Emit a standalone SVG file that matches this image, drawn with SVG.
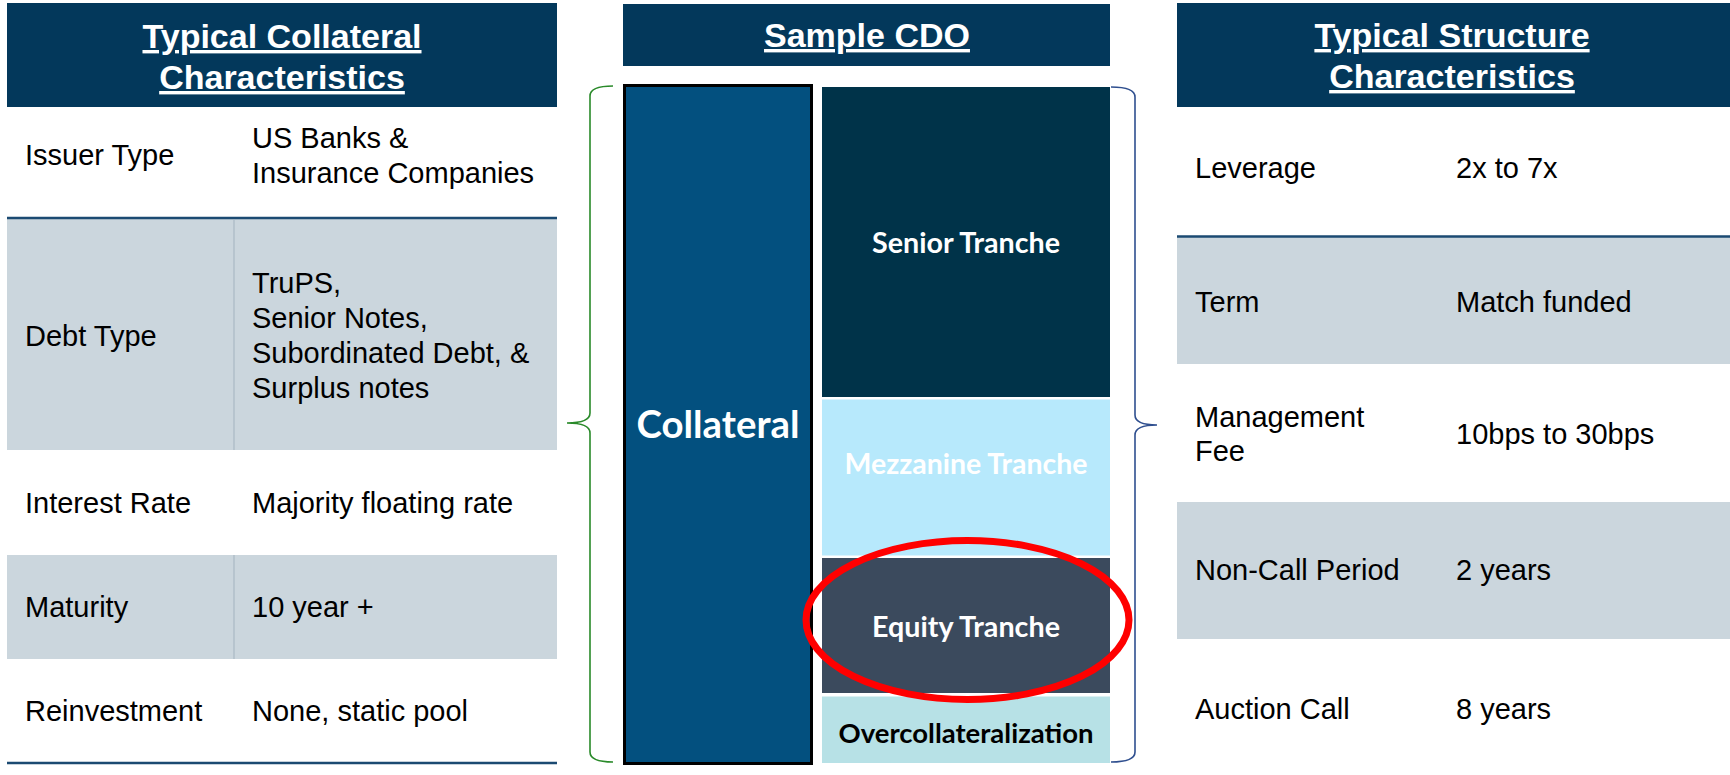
<svg xmlns="http://www.w3.org/2000/svg" width="1730" height="775" viewBox="0 0 1730 775">
<style>
.hdr{fill:#03385B}
.ht{font-family:"Liberation Sans",Arial,sans-serif;font-weight:bold;font-size:34px;fill:#fff;text-anchor:middle;text-decoration:underline}
.b{font-family:"Liberation Sans",Arial,sans-serif;font-size:29px;fill:#000}
.gray{fill:#CBD6DD}
.sep{stroke:#1B4A72;stroke-width:2.5}
.div{stroke:#A3B3BF;stroke-width:1}
.tr{font-family:Lato,"Open Sans",sans-serif;font-weight:bold;text-anchor:middle}
.brace{fill:none;stroke-width:1.6}
</style>
<rect width="1730" height="775" fill="#fff"/>

<g id="left-table">
  <rect class="hdr" x="7" y="3" width="550" height="104"/>
  <text class="ht" x="282" y="48">Typical Collateral</text>
  <text class="ht" x="282" y="89">Characteristics</text>
  <rect class="gray" x="7" y="219" width="550" height="231"/>
  <rect class="gray" x="7" y="555" width="550" height="104"/>
  <line class="div" x1="234" y1="220" x2="234" y2="450"/>
  <line class="div" x1="234" y1="555" x2="234" y2="659"/>
  <line class="sep" x1="7" y1="218" x2="557" y2="218"/>
  <line class="sep" x1="7" y1="763" x2="557" y2="763"/>
  <g id="row-issuer">
    <text class="b" x="25" y="165">Issuer Type</text>
    <text class="b" x="252" y="148">US Banks &amp;</text>
    <text class="b" x="252" y="183">Insurance Companies</text>
  </g>
  <g id="row-debt">
    <text class="b" x="25" y="346">Debt Type</text>
    <text class="b" x="252" y="293">TruPS,</text>
    <text class="b" x="252" y="328">Senior Notes,</text>
    <text class="b" x="252" y="363">Subordinated Debt, &amp;</text>
    <text class="b" x="252" y="398">Surplus notes</text>
  </g>
  <g id="row-interest">
    <text class="b" x="25" y="513">Interest Rate</text>
    <text class="b" x="252" y="513">Majority floating rate</text>
  </g>
  <g id="row-maturity">
    <text class="b" x="25" y="617">Maturity</text>
    <text class="b" x="252" y="617">10 year +</text>
  </g>
  <g id="row-reinvest">
    <text class="b" x="25" y="721">Reinvestment</text>
    <text class="b" x="252" y="721">None, static pool</text>
  </g>
</g>

<g id="sample-cdo-header">
  <rect class="hdr" x="623" y="4" width="487" height="62"/>
  <text class="ht" x="867" y="47">Sample CDO</text>
</g>

<g id="collateral">
  <rect x="624.5" y="85.5" width="187" height="678" fill="#03507F" stroke="#000" stroke-width="3"/>
  <text class="tr" x="718" y="438" font-size="38" fill="#fff" textLength="163" lengthAdjust="spacingAndGlyphs">Collateral</text>
</g>

<g id="senior-tranche">
  <rect x="822" y="87" width="288" height="310" fill="#003349"/>
  <text class="tr" x="966" y="253" font-size="28" fill="#fff" textLength="188" lengthAdjust="spacingAndGlyphs">Senior Tranche</text>
</g>
<g id="mezzanine-tranche">
  <rect x="822" y="399.5" width="288" height="156" fill="#B7E9FC"/>
  <text class="tr" x="966" y="474" font-size="28" fill="#fff" textLength="243" lengthAdjust="spacingAndGlyphs">Mezzanine Tranche</text>
</g>
<g id="equity-tranche">
  <rect x="822" y="558" width="288" height="135" fill="#3B4A5D"/>
  <text class="tr" x="966" y="637" font-size="28" fill="#fff" textLength="188" lengthAdjust="spacingAndGlyphs">Equity Tranche</text>
</g>
<g id="overcollateralization">
  <rect x="822" y="696.5" width="288" height="66.5" fill="#B7E1E6"/>
  <text class="tr" x="966" y="743" font-size="27" fill="#000" textLength="255" lengthAdjust="spacingAndGlyphs">Overcollateralization</text>
</g>

<g id="connectors">
  <path class="brace" stroke="#2A8A2A" d="M613,86 Q590,86 590,96 L590,413 Q590,423 567,423 Q590,423 590,433 L590,752 Q590,762 613,762"/>
  <path class="brace" stroke="#2F4F8F" d="M1111,87 Q1135,87 1135,97 L1135,415 Q1135,425 1157,425 Q1135,425 1135,435 L1135,752 Q1135,762 1111,762"/>
</g>

<g id="highlight">
  <ellipse cx="967.5" cy="620" rx="161.5" ry="79.5" fill="none" stroke="#FF0000" stroke-width="7"/>
</g>

<g id="right-table">
  <rect class="hdr" x="1177" y="3" width="553" height="104"/>
  <text class="ht" x="1452" y="47">Typical Structure</text>
  <text class="ht" x="1452" y="88">Characteristics</text>
  <rect class="gray" x="1177" y="237" width="553" height="127"/>
  <rect class="gray" x="1177" y="502" width="553" height="137"/>
  <line class="sep" x1="1177" y1="236.5" x2="1730" y2="236.5"/>
  <g id="row-leverage">
    <text class="b" x="1195" y="178">Leverage</text>
    <text class="b" x="1456" y="178">2x to 7x</text>
  </g>
  <g id="row-term">
    <text class="b" x="1195" y="312">Term</text>
    <text class="b" x="1456" y="312">Match funded</text>
  </g>
  <g id="row-fee">
    <text class="b" x="1195" y="427">Management</text>
    <text class="b" x="1195" y="461">Fee</text>
    <text class="b" x="1456" y="444">10bps to 30bps</text>
  </g>
  <g id="row-noncall">
    <text class="b" x="1195" y="580">Non-Call Period</text>
    <text class="b" x="1456" y="580">2 years</text>
  </g>
  <g id="row-auction">
    <text class="b" x="1195" y="719">Auction Call</text>
    <text class="b" x="1456" y="719">8 years</text>
  </g>
</g>
</svg>
